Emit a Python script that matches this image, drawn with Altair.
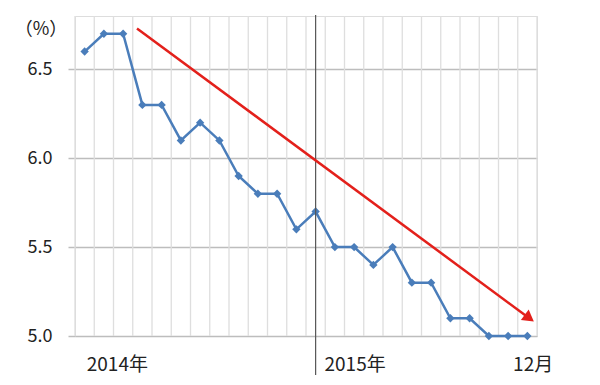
import altair as alt
import pandas as pd

# Monthly values, Jan 2014 .. Dec 2015 (%)
months = list(range(24))
values = [6.6, 6.7, 6.7, 6.3, 6.3, 6.1, 6.2, 6.1, 5.9, 5.8, 5.8, 5.6,
          5.7, 5.5, 5.5, 5.4, 5.5, 5.3, 5.3, 5.1, 5.1, 5.0, 5.0, 5.0]

# Trend arrow (start / end in data units)
arrow_x = [2.72, 23.1]
arrow_y = [6.73, 5.10]

# X labels
xlab_text = ["2014年", "2015年", "12月"]
xlab_pos = [1.7, 14.05, 23.3]

y_ticks = [5.0, 5.5, 6.0, 6.5]
x_grid = [k + 0.5 for k in range(-1, 24)]

W, H = 462, 320
FONT = "Noto Sans CJK JP"

df = pd.DataFrame({"m": months, "v": values})
arr = pd.DataFrame({"m": arrow_x, "v": arrow_y})
lab = pd.DataFrame({"t": xlab_text, "m": xlab_pos})
head = pd.DataFrame({"m": [arrow_x[1]], "v": [arrow_y[1]]})
grid = pd.DataFrame({"m": x_grid})

xs = alt.Scale(domain=[-0.5, 23.5], nice=False, zero=False)
ys = alt.Scale(domain=[5.0, 6.8], nice=False, zero=False)

base_x = alt.X("m:Q", scale=xs, axis=None)
base_y = alt.Y("v:Q", scale=ys,
               axis=alt.Axis(values=y_ticks, format=".1f", grid=True,
                             gridColor="#bdbdbd", gridWidth=1.5,
                             tickColor="#bdbdbd", tickSize=7, tickWidth=1.5,
                             domain=False, title=None, labelFontSize=18,
                             labelFont=FONT, labelColor="#222222",
                             labelPadding=16))

vgrid = alt.Chart(grid).mark_rule(color="#dedede", strokeWidth=1.3).encode(
    x=base_x, y=alt.value(0), y2=alt.value(H))

line = alt.Chart(df).mark_line(
    color="#4a7dba", strokeWidth=2.5,
    point=alt.OverlayMarkDef(shape="diamond", size=70, filled=True,
                             color="#4a7dba", opacity=1)
).encode(x=base_x, y=base_y)

vrule = alt.Chart(pd.DataFrame({"m": [12]})).mark_rule(
    color="#555555", strokeWidth=1.2
).encode(x=base_x, y=alt.value(-1), y2=alt.value(359))

arrow_line = alt.Chart(arr).mark_line(color="#e3201b", strokeWidth=2.5).encode(
    x=base_x, y=base_y)

arrow_head = alt.Chart(head).mark_point(
    shape="triangle-right", filled=True, color="#e3201b", size=170,
    angle=36.6, opacity=1
).encode(x=base_x, y=base_y)

xlabels = alt.Chart(lab).mark_text(
    font=FONT, fontSize=19, color="#222222", baseline="middle", align="center"
).encode(x=base_x, y=alt.value(H + 29), text="t:N")

pct = alt.Chart(pd.DataFrame({"t": ["（%）"]})).mark_text(
    font=FONT, fontSize=18, color="#222222", align="center", baseline="middle"
).encode(x=alt.value(-34), y=alt.value(14), text="t:N")

chart = alt.layer(vgrid, line, vrule, arrow_line, arrow_head, xlabels, pct).properties(
    width=W, height=H,
    autosize=alt.AutoSizeParams(type="none"),
    padding={"left": 75, "top": 16, "right": 63, "bottom": 49},
).configure_view(stroke=None).configure(background="white")

chart.save("out.html", embed_options={"renderer": "svg", "actions": False})
